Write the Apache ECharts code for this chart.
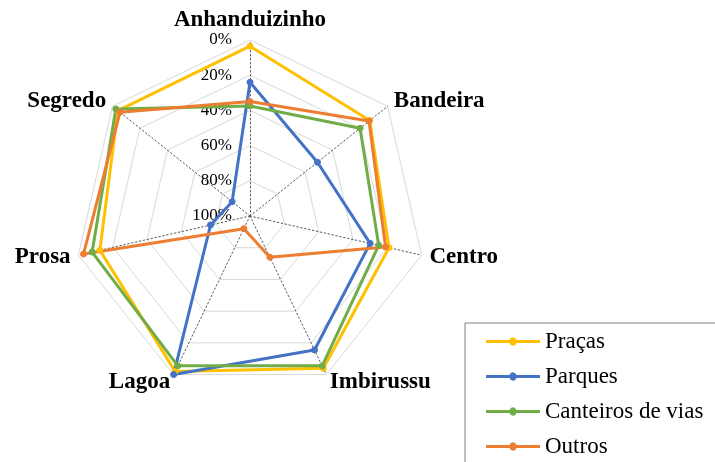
<!DOCTYPE html>
<html>
<head>
<meta charset="utf-8">
<script src="https://cdn.jsdelivr.net/npm/echarts@6/dist/echarts.min.js"></script>
<style>html,body{margin:0;padding:0;background:#fff;}#c{width:715px;height:462px;}</style>
</head>
<body>
<div id="c"></div>
<script>
// Categories in clockwise order starting from top
const categories = ['Anhanduizinho', 'Bandeira', 'Centro', 'Imbirussu', 'Lagoa', 'Prosa', 'Segredo'];
const seriesNames = ['Praças', 'Parques', 'Canteiros de vias', 'Outros'];
// Values in % (0% = outer ring, 100% = centre)
const pracas   = [3.5, 13, 19, 4, 2, 12.5, 4];
const parques  = [24, 51, 30, 15.5, 0, 77, 87];
const canteiros = [37.5, 20, 25, 5.5, 5.5, 8, 2.5];
const outros   = [35, 13.5, 21, 74, 92, 3, 5.5];
const tickValues = [0, 20, 40, 60, 80, 100];
const colors = ['#FFC000', '#4472C4', '#70AD47', '#ED7D31'];

// ECharts radar lays indicators counter-clockwise; reorder to appear clockwise
const order = [0, 6, 5, 4, 3, 2, 1];
const serif = '"Liberation Serif", "Times New Roman", serif';
const indicator = order.map((i, k) => {
  const o = { name: categories[i], min: 0, max: 100 };
  o.axisLabel = k === 0 ? {
    show: true, color: '#000', fontFamily: serif, fontSize: 17, margin: 18,
    padding: [10, 0, 0, 0],
    formatter: v => (100 - v) + '%'
  } : { show: false };
  return o;
});
const allData = [pracas, parques, canteiros, outros];
const iconPath = 'path://M0,3.5L23.6,3.5A3.5,3.5,0,0,1,30.4,3.5L54,3.5L54,6.5L30.4,6.5A3.5,3.5,0,0,1,23.6,6.5L0,6.5Z';

const chart = echarts.init(document.getElementById('c'), null, { renderer: 'canvas' });
chart.setOption({
  animation: false,
  backgroundColor: '#fff',
  color: colors,
  legend: {
    orient: 'vertical',
    left: 465, top: 323,
    height: 200,
    padding: [7, 30, 60, 21],
    borderColor: '#7f7f7f', borderWidth: 1,
    itemWidth: 54, itemHeight: 10, itemGap: 12,
    icon: iconPath,
    textStyle: { fontFamily: serif, fontSize: 23, lineHeight: 23, color: '#000' },
    data: seriesNames
  },
  radar: {
    center: [250, 216],
    radius: 176,
    startAngle: 90,
    splitNumber: 5,
    shape: 'polygon',
    nameGap: 8,
    axisName: { color: '#000', fontFamily: serif, fontSize: 23, fontWeight: 'bold' },
    axisLine: { show: true, lineStyle: { color: '#595959', type: [1.5, 2.5], width: 1 } },
    splitLine: { show: true, lineStyle: { color: '#d9d9d9', width: 1 } },
    splitArea: { show: false },
    axisTick: { show: false },
    axisLabel: { show: false },
    indicator: indicator
  },
  series: [{
    type: 'radar',
    symbol: 'circle',
    symbolSize: 6,
    lineStyle: { width: 3 },
    data: allData.map((arr, s) => ({
      name: seriesNames[s],
      value: order.map(i => 100 - arr[i]),
      itemStyle: { color: colors[s], borderColor: colors[s] },
      lineStyle: { color: colors[s], width: 3 }
    }))
  }]
});
</script>
</body>
</html>
